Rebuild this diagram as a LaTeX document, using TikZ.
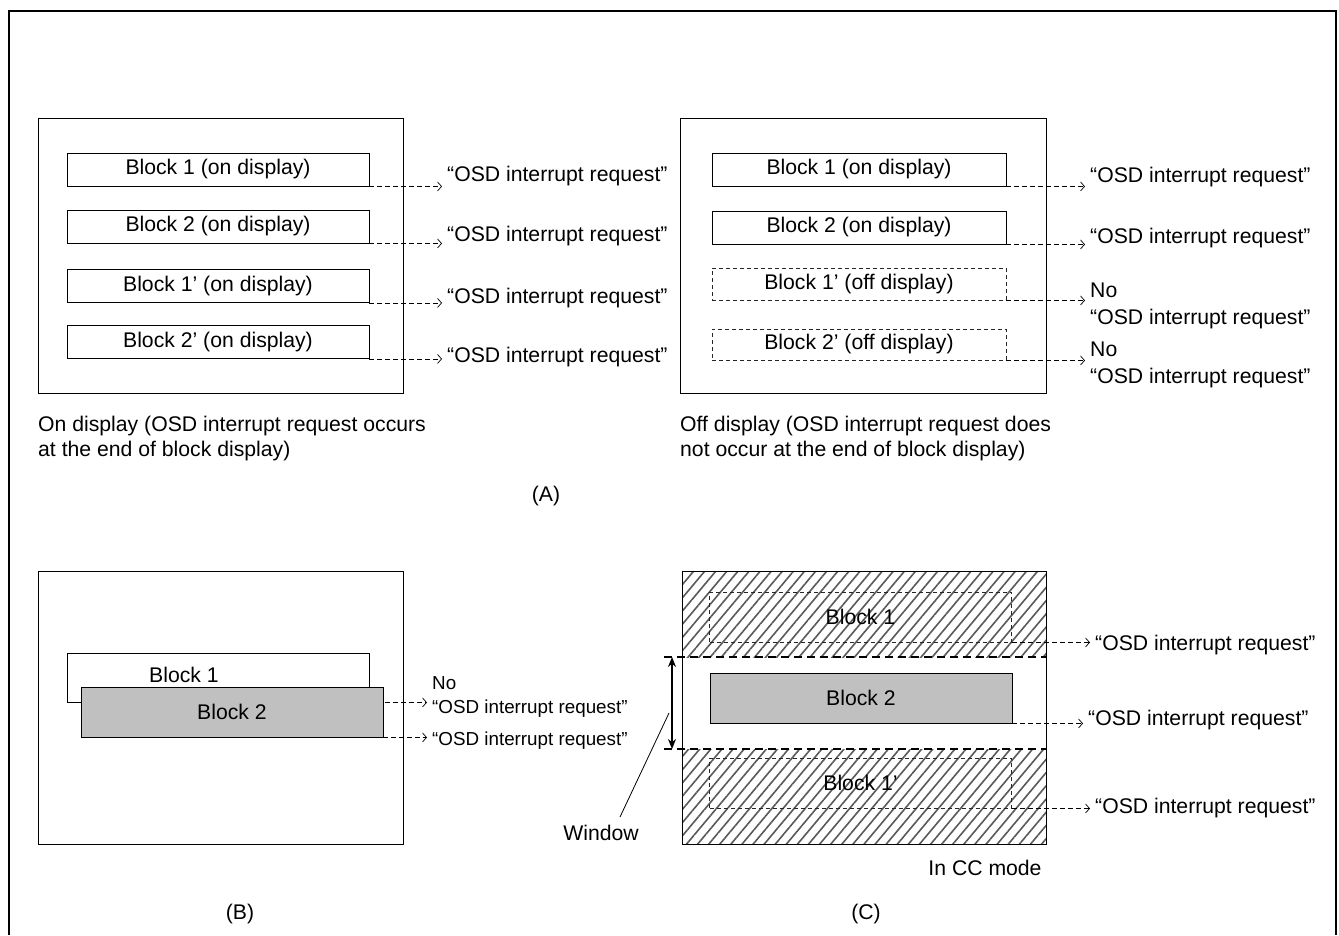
\documentclass[tikz,border=0pt]{standalone}
\usepackage{fontspec}
\setmainfont{Liberation Sans}
\usetikzlibrary{positioning, calc, patterns.meta, arrows.meta}
\definecolor{blkgray}{RGB}{192,192,192}

\begin{document}
\begin{tikzpicture}[x=1pt, y=-1pt,
  blk/.style={draw, line width=0.9pt, minimum width=302pt, minimum height=33pt, inner sep=0pt, font=\fontsize{21.2}{24}\selectfont},
  offblk/.style={blk, draw=black!85, dash pattern=on 4pt off 3pt},
  grayblk/.style={blk, fill=blkgray},
  txt/.style={inner sep=0pt, inner xsep=5pt, align=left, font=\fontsize{21.2}{27}\selectfont},
  smalltxt/.style={txt, font=\fontsize{18.8}{24}\selectfont},
  captxt/.style={inner sep=0pt, align=left, font=\fontsize{21.2}{25}\selectfont},
  req/.style={line width=0.7pt, dash pattern=on 5pt off 3pt, -{Straight Barb[length=4pt, width=9pt]}},
  panel/.style={draw, line width=1pt},
  hatchfill/.style={pattern={Lines[angle=50, distance=8.5pt, line width=1.6pt]}, pattern color=black!65},
  winline/.style={line width=2.5pt, dash pattern=on 8pt off 5pt}
]
\useasboundingbox (0,0) rectangle (1339,935);
\draw[line width=2.5pt] (9,935) |- (1336,11) -- (1336,935);

% (A) on display
\draw[panel] (38,118) rectangle (403,393);
\node[blk] (a1) at (218,169.5) {Block 1 (on display)};
\node[blk] (a2) at (218,226.5) {Block 2 (on display)};
\node[blk] (a3) at (218,286) {Block 1’ (on display)};
\node[blk] (a4) at (218,342) {Block 2’ (on display)};
\node[txt, anchor=west] (ra1) at (442,176) {“OSD interrupt request”};
\node[txt, anchor=west] (ra2) at (442,236) {“OSD interrupt request”};
\node[txt, anchor=west] (ra3) at (442,298) {“OSD interrupt request”};
\node[txt, anchor=west] (ra4) at (442,357) {“OSD interrupt request”};
\draw[req] (a1.south east) -- (a1.south east -| ra1.west);
\draw[req] (a2.south east) -- (a2.south east -| ra2.west);
\draw[req] (a3.south east) -- (a3.south east -| ra3.west);
\draw[req] (a4.south east) -- (a4.south east -| ra4.west);
\node[captxt, anchor=west] (capa) at (38,438.5) {On display (OSD interrupt request occurs\\at the end of block display)};

% (A) off display
\draw[panel] (680,118) rectangle (1046,393);
\node[blk, minimum width=294pt] (o1) at (859,169.5) {Block 1 (on display)};
\node[blk, minimum width=294pt] (o2) at (859,227.5) {Block 2 (on display)};
\node[offblk, minimum width=294pt, minimum height=32pt] (o3) at (859,284) {Block 1’ (off display)};
\node[offblk, minimum width=294pt, minimum height=31pt] (o4) at (859,344.5) {Block 2’ (off display)};
\node[txt, anchor=west] (ro1) at (1085,177) {“OSD interrupt request”};
\node[txt, anchor=west] (ro2) at (1085,238) {“OSD interrupt request”};
\node[txt, anchor=west] (ro3) at (1085,306) {No\\“OSD interrupt request”};
\node[txt, anchor=west] (ro4) at (1085,365) {No\\“OSD interrupt request”};
\draw[req] (o1.south east) -- (o1.south east -| ro1.west);
\draw[req] (o2.south east) -- (o2.south east -| ro2.west);
\draw[req] (o3.south east) -- (o3.south east -| ro3.west);
\draw[req] (o4.south east) -- (o4.south east -| ro4.west);
\node[captxt, anchor=west] (capo) at (680,438.5) {Off display (OSD interrupt request does\\not occur at the end of block display)};

\node[captxt] (labA) at (546,496) {(A)};

% (B)
\draw[panel] (38,571) rectangle (403,844);
\node[smalltxt, anchor=west] (rb1) at (427,697) {No\\“OSD interrupt request”};
\node[smalltxt, anchor=west] (rb2) at (427,741) {“OSD interrupt request”};
\node[blk, fill=white, minimum height=49pt] (b1) at (218,677.5) {\raisebox{5pt}{Block 1}\kern68pt};
\draw[req] (b1.south east) -- (b1.south east -| rb1.west);
\node[grayblk, minimum height=50pt] (b2) at (232,712) {Block 2};
\draw[req] (b2.south east) -- (b2.south east -| rb2.west);
\node[captxt] (labB) at (240,914) {(B)};

% (C)
\fill[hatchfill] (682,571) rectangle (1046,657);
\fill[hatchfill] (682,749) rectangle (1046,844);
\draw[panel] (682,571) rectangle (1046,844);
\node[offblk, minimum height=50pt] (c1) at (860.5,617) {Block 1};
\node[grayblk, minimum height=50pt] (c2) at (861,698) {Block 2};
\node[offblk, minimum height=50pt] (c3) at (860.5,783) {Block 1’};
\node[txt, anchor=west] (rc1) at (1090,645) {“OSD interrupt request”};
\node[txt, anchor=west] (rc2) at (1083,720) {“OSD interrupt request”};
\node[txt, anchor=west] (rc3) at (1090,808) {“OSD interrupt request”};
\draw[req] (c1.south east) -- (c1.south east -| rc1.west);
\draw[req] (c2.south east) -- (c2.south east -| rc2.west);
\draw[req] (c3.south east) -- (c3.south east -| rc3.west);
\coordinate (wt) at (664,657);
\coordinate (wb) at (664,749);
\draw[winline] (wt) -- (1046,657);
\draw[winline] (wb) -- (1046,749);
\draw[{Stealth[length=10pt, width=8pt]}-{Stealth[length=10pt, width=8pt]}, line width=1.3pt] ([xshift=8pt]wt) -- ([xshift=8pt]wb);
\node[captxt] (winl) at (601,833) {Window};
\coordinate (winp) at (669,713);
\draw[line width=0.8pt] ([xshift=19pt, yshift=8pt]winl.north) -- (winp);
\node[captxt] (ccm) at (985,868) {In CC mode};
\node[captxt] (labC) at (866,914) {(C)};
\end{tikzpicture}
\end{document}
